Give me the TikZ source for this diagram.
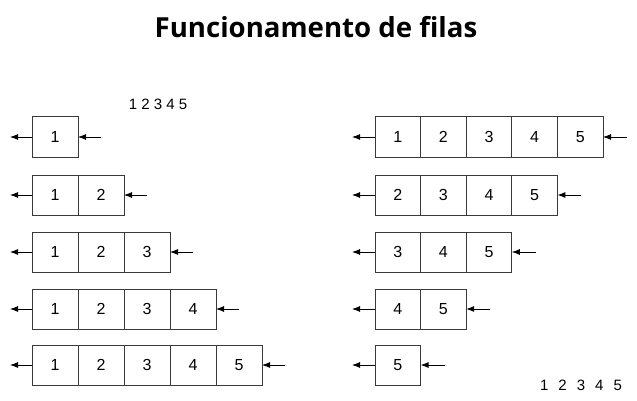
\documentclass[tikz,border=0pt]{standalone}
\usepackage{fontspec}
\setmainfont{Liberation Sans}
\newfontfamily\titlefont{Open Sans}
\usetikzlibrary{arrows.meta}
\definecolor{boxgray}{HTML}{3A3A3A}
\tikzset{
  cell/.style={draw=boxgray, line width=1pt, minimum width=45.6pt, minimum height=40pt,
    inner sep=0pt, outer sep=0pt, font=\fontsize{16}{18}\selectfont},
  flow/.style={-{Latex[length=8pt,width=6pt]}, line width=0.9pt},
  label/.style={inner sep=0pt, font=\fontsize{15}{18}\selectfont}
}
\begin{document}
\begin{tikzpicture}[x=1pt,y=-1pt]
\useasboundingbox (0,0) rectangle (637,401);
\node[inner sep=0pt, font=\titlefont\bfseries\fontsize{27.6}{30}\selectfont] (title) at (316,27) {Funcionamento de filas};
\node[label] (topnums) at (158,104) {1 2 3 4 5};
\node[label] (botnums) at (581,385) {1\hspace{10pt}2\hspace{10pt}3\hspace{10pt}4\hspace{10pt}5};
\foreach \r/\y in {1/137,2/195,3/252,4/309,5/365} {
  \foreach \c in {1,...,\r} {
    \node[cell, minimum width=46pt] (L\r-\c) at ({32+(\c-0.5)*46},\y) {\c};
  }
  \coordinate (Lout\r) at (10,\y);
  \coordinate (Lin\r) at ({32+\r*46+23},\y);
  \draw[flow] (L\r-1.west) -- (Lout\r);
  \draw[flow] (Lin\r) -- (L\r-\r.east);
  \foreach \c in {\r,...,5} {
    \node[cell] (R\r-\c) at ({375+(\c-\r+0.5)*45.6},\y) {\c};
  }
  \coordinate (Rout\r) at (352,\y);
  \coordinate (Rin\r) at ({375+(6-\r)*45.6+24},\y);
  \draw[flow] (R\r-\r.west) -- (Rout\r);
  \draw[flow] (Rin\r) -- (R\r-5.east);
}
\end{tikzpicture}
\end{document}
